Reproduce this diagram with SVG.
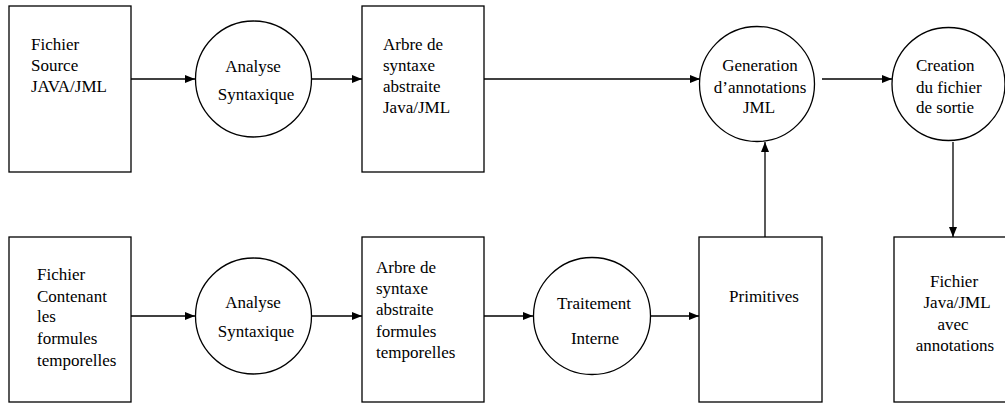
<svg xmlns="http://www.w3.org/2000/svg" width="1005" height="406" viewBox="0 0 1005 406">
<style>
.n{fill:#fff;stroke:#000;stroke-width:1.3}
.t{font-family:"Liberation Serif","Times New Roman",serif;font-size:17px;fill:#000}
.m{text-anchor:middle}
.c{fill:none;stroke:#000;stroke-width:1.3}
</style>
<defs>
<marker id="a" viewBox="0 0 10 8" refX="10" refY="4" markerWidth="10" markerHeight="8" markerUnits="userSpaceOnUse" orient="auto">
<path d="M0,0 L10,4 L0,8 Z" fill="#000"/>
</marker>
</defs>
<rect width="1005" height="406" fill="#fff"/>
<g id="connectors">
<line class="c" x1="131" y1="79" x2="195" y2="79" marker-end="url(#a)"/>
<line class="c" x1="312" y1="79" x2="362" y2="79" marker-end="url(#a)"/>
<line class="c" x1="484" y1="79" x2="700" y2="79" marker-end="url(#a)"/>
<line class="c" x1="822" y1="79" x2="892" y2="79" marker-end="url(#a)"/>
<line class="c" x1="953" y1="142" x2="953" y2="237" marker-end="url(#a)"/>
<line class="c" x1="765" y1="237" x2="765" y2="142" marker-end="url(#a)"/>
<line class="c" x1="131" y1="316" x2="195" y2="316" marker-end="url(#a)"/>
<line class="c" x1="312" y1="316" x2="362" y2="316" marker-end="url(#a)"/>
<line class="c" x1="484" y1="316" x2="533" y2="316" marker-end="url(#a)"/>
<line class="c" x1="651" y1="316" x2="699" y2="316" marker-end="url(#a)"/>
</g>
<g id="fichier-source">
<rect class="n" x="9" y="6" width="122" height="166"/>
<text class="t" x="31" y="50">Fichier</text>
<text class="t" x="31" y="71">Source</text>
<text class="t" x="31" y="92">JAVA/JML</text>
</g>
<g id="analyse1">
<circle class="n" cx="253.5" cy="79" r="58"/>
<text class="t m" x="253" y="72">Analyse</text>
<text class="t m" x="256" y="100">Syntaxique</text>
</g>
<g id="arbre-java">
<rect class="n" x="362" y="6" width="122" height="166"/>
<text class="t" x="383" y="50">Arbre de</text>
<text class="t" x="383" y="71">syntaxe</text>
<text class="t" x="383" y="92">abstraite</text>
<text class="t" x="383" y="113">Java/JML</text>
</g>
<g id="generation">
<circle class="n" cx="757" cy="84" r="57.5"/>
<text class="t m" x="760" y="71">Generation</text>
<text class="t m" x="760" y="93">d’annotations</text>
<text class="t m" x="759" y="113">JML</text>
</g>
<g id="creation">
<circle class="n" cx="948.5" cy="84" r="56.5"/>
<text class="t" x="916" y="71">Creation</text>
<text class="t" x="916" y="93">du fichier</text>
<text class="t" x="916" y="113">de sortie</text>
</g>
<g id="fichier-formules">
<rect class="n" x="9" y="237" width="122" height="165"/>
<text class="t" x="37" y="280">Fichier</text>
<text class="t" x="37" y="302">Contenant</text>
<text class="t" x="37" y="322">les</text>
<text class="t" x="37" y="344">formules</text>
<text class="t" x="37" y="366">temporelles</text>
</g>
<g id="analyse2">
<circle class="n" cx="253.5" cy="316" r="58"/>
<text class="t m" x="253" y="308">Analyse</text>
<text class="t m" x="256" y="337">Syntaxique</text>
</g>
<g id="arbre-formules">
<rect class="n" x="362" y="237" width="122" height="165"/>
<text class="t" x="376" y="273">Arbre de</text>
<text class="t" x="376" y="294">syntaxe</text>
<text class="t" x="376" y="315">abstraite</text>
<text class="t" x="376" y="337">formules</text>
<text class="t" x="376" y="358">temporelles</text>
</g>
<g id="traitement">
<circle class="n" cx="592" cy="316" r="58.5"/>
<text class="t m" x="594" y="309">Traitement</text>
<text class="t m" x="595" y="344">Interne</text>
</g>
<g id="primitives">
<rect class="n" x="699" y="237" width="123" height="165"/>
<text class="t m" x="764" y="302">Primitives</text>
</g>
<g id="fichier-sortie">
<rect class="n" x="894" y="237" width="123" height="165"/>
<text class="t m" x="954" y="287">Fichier</text>
<text class="t m" x="957" y="308">Java/JML</text>
<text class="t m" x="953" y="330">avec</text>
<text class="t m" x="955" y="351">annotations</text>
</g>
</svg>
